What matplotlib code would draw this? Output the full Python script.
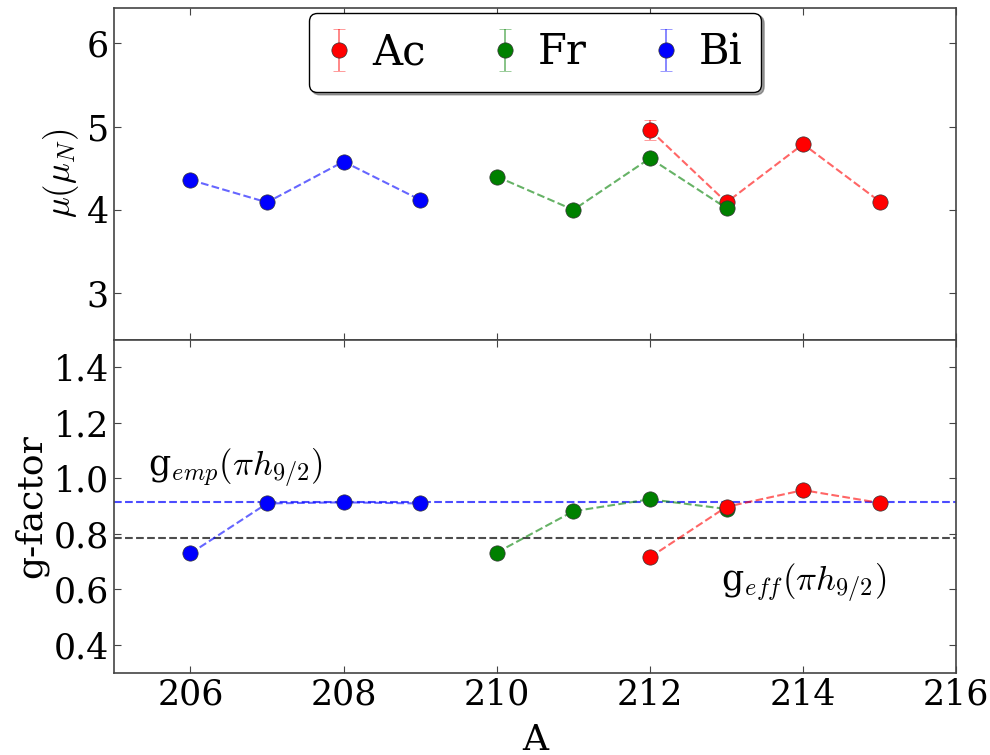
import matplotlib
matplotlib.use("Agg")
import matplotlib.pyplot as plt

plt.rcParams['font.family'] = ['DejaVu Serif']
plt.rcParams['mathtext.fontset'] = 'cm'

# ---- data ----
A_bi = [206, 207, 208, 209]
A_fr = [210, 211, 212, 213]
A_ac = [212, 213, 214, 215]

mu_bi = [4.36, 4.09, 4.58, 4.12]
mu_fr = [4.40, 4.00, 4.62, 4.02]
mu_ac = [4.96, 4.09, 4.79, 4.10]
mu_err_bi = [0.01, 0.01, 0.01, 0.01]
mu_err_fr = [0.01, 0.01, 0.01, 0.01]
mu_err_ac = [0.12, 0.02, 0.03, 0.02]

g_bi = [0.730, 0.910, 0.914, 0.910]
g_fr = [0.733, 0.882, 0.925, 0.890]
g_ac = [0.716, 0.898, 0.958, 0.912]
g_err_bi = [0.003, 0.003, 0.003, 0.003]
g_err_fr = [0.003, 0.003, 0.003, 0.003]
g_err_ac = [0.005, 0.005, 0.005, 0.005]

g_emp = 0.915
g_eff = 0.787

names = ['Ac', 'Fr', 'Bi']
colors = {'Ac': 'red', 'Fr': 'green', 'Bi': 'blue'}

fig = plt.figure(figsize=(9.9, 7.55), dpi=100)
ax1 = fig.add_axes([0.115, 0.55, 0.851, 0.44])
ax2 = fig.add_axes([0.115, 0.109, 0.851, 0.441], sharex=ax1)

def series(ax, x, y, e, c, z):
    ax.plot(x, y, '--', color=c, alpha=0.6, lw=1.5, zorder=z)
    h = ax.errorbar(x, y, yerr=e, fmt='o', color=c, ecolor=c, elinewidth=1.2,
                    capsize=4, capthick=1.2, markersize=11, mec='#333333', mew=0.5,
                    zorder=z + 0.5)
    for art in h[1] + h[2]:
        art.set_alpha(0.55)
    return h

h_ac = series(ax1, A_ac, mu_ac, mu_err_ac, colors['Ac'], 2)
h_fr = series(ax1, A_fr, mu_fr, mu_err_fr, colors['Fr'], 3)
h_bi = series(ax1, A_bi, mu_bi, mu_err_bi, colors['Bi'], 4)

series(ax2, A_fr, g_fr, g_err_fr, colors['Fr'], 2)
series(ax2, A_ac, g_ac, g_err_ac, colors['Ac'], 3)
series(ax2, A_bi, g_bi, g_err_bi, colors['Bi'], 4)

ax2.axhline(g_emp, color='blue', ls='--', lw=1.5, alpha=0.7, zorder=1)
ax2.axhline(g_eff, color='black', ls='--', lw=1.5, alpha=0.7, zorder=1)

ax2.text(205.45, 1.01, r'g$_{emp}(\pi h_{9/2})$', fontsize=25, va='baseline')
ax2.text(212.93, 0.595, r'g$_{eff}(\pi h_{9/2})$', fontsize=25, va='baseline')

ax1.set_xlim(205, 216)
ax1.set_ylim(2.44, 6.43)
ax1.set_yticks([3, 4, 5, 6])
ax2.set_ylim(0.3, 1.5)
ax2.set_yticks([0.4, 0.6, 0.8, 1.0, 1.2, 1.4])
ax2.set_xticks([206, 208, 210, 212, 214, 216])

for ax in (ax1, ax2):
    ax.tick_params(direction='in', top=True, right=True, labelsize=25,
                   length=5, width=0.8, color='#444444')
    for s in ax.spines.values():
        s.set_color('#444444')
        s.set_linewidth(1.2)
ax1.tick_params(labelbottom=False)

ax1.set_ylabel(r'$\mu(\mu_N)$', fontsize=25)
ax2.set_ylabel('g-factor', fontsize=26)
ax2.set_xlabel('A', fontsize=26, labelpad=8)

leg = ax1.legend([h_ac, h_fr, h_bi], names, loc='upper center', ncol=3,
                 numpoints=1, fontsize=30, fancybox=True, shadow=True,
                 columnspacing=1.62, handletextpad=0.52, borderaxespad=0.12,
                 handlelength=0.55, borderpad=0.45)
leg.get_frame().set_edgecolor('black')

fig.savefig('out.png', dpi=100)
